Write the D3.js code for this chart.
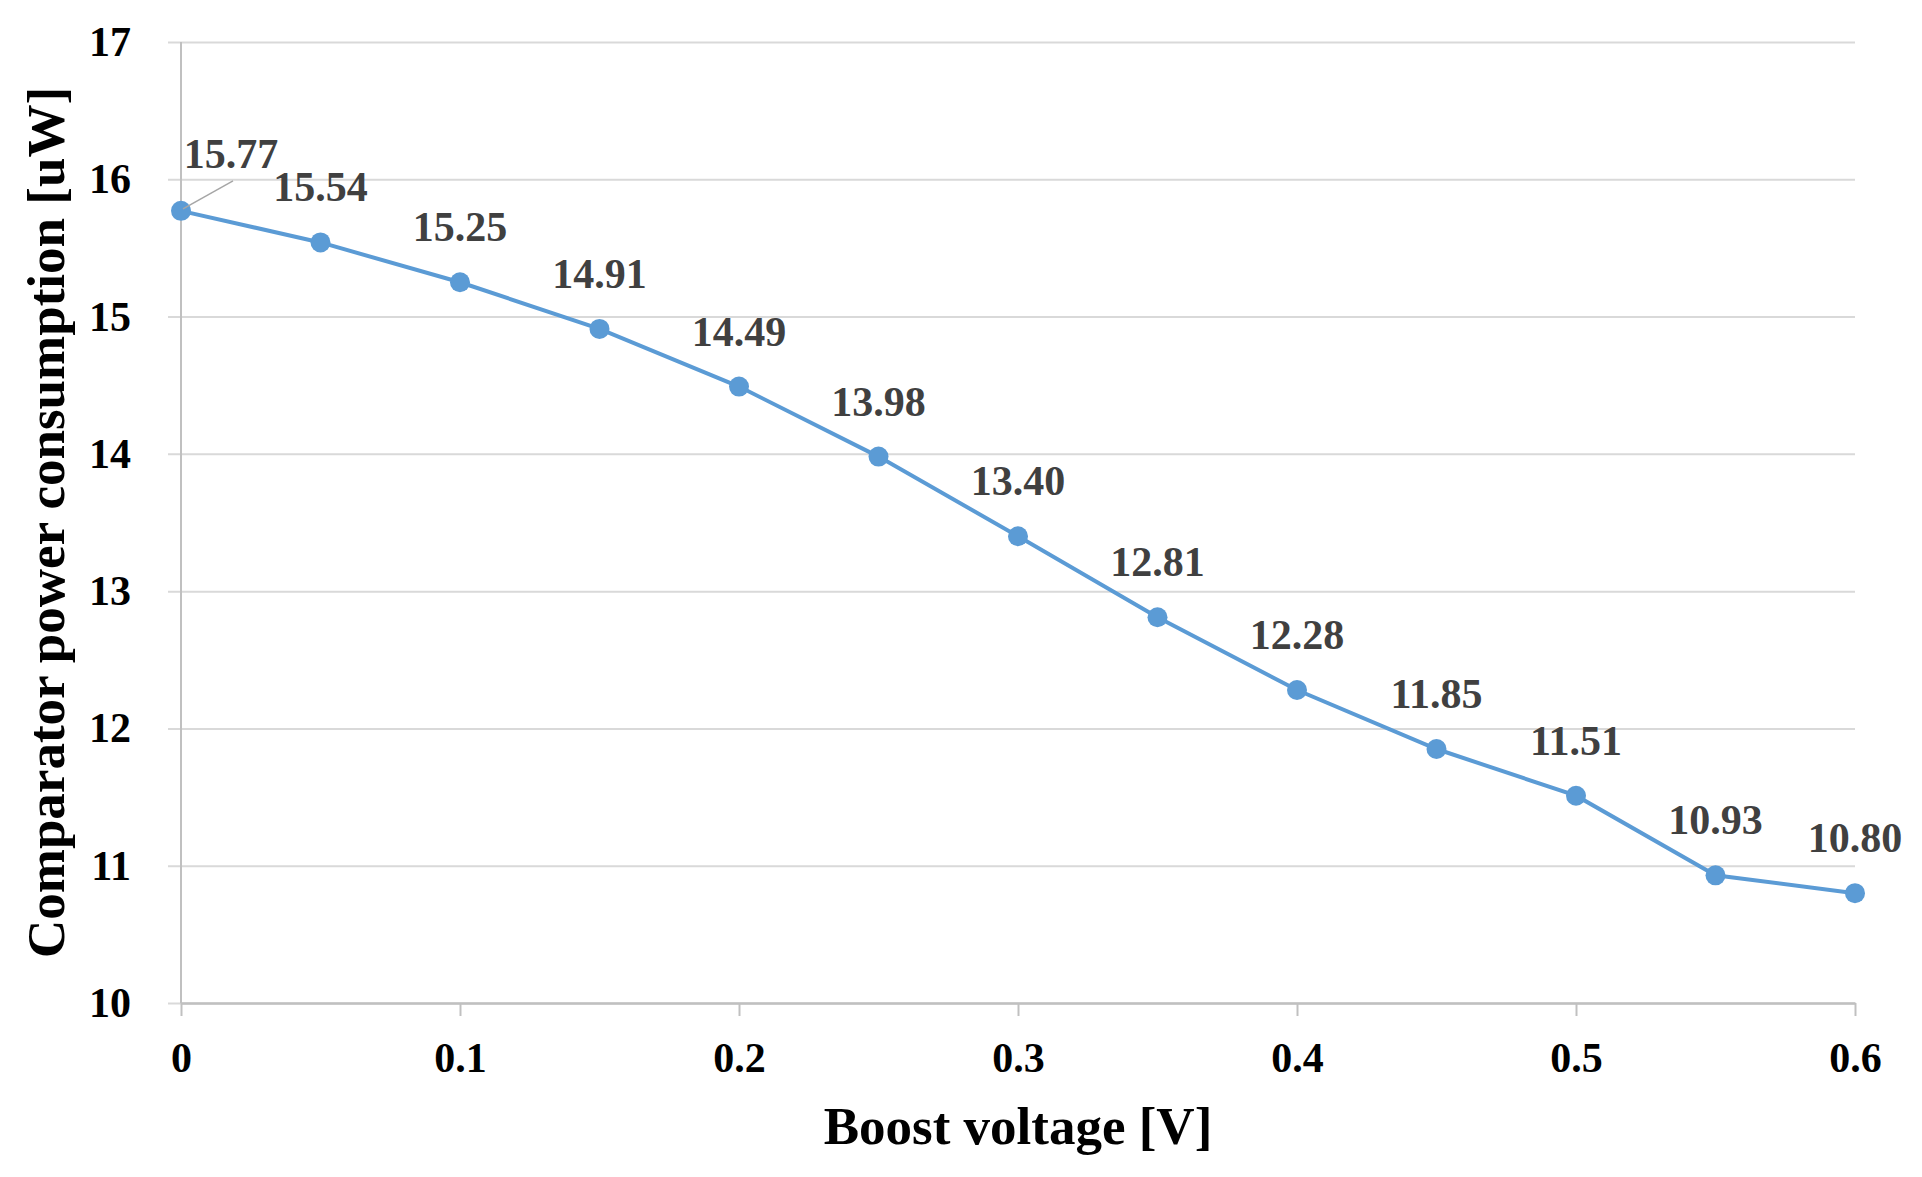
<!DOCTYPE html>
<html>
<head>
<meta charset="utf-8">
<script src="https://cdn.jsdelivr.net/npm/d3@7"></script>
<style>
  body { margin: 0; background: #fff; }
  svg { display: block; font-family: "Liberation Serif", "Times New Roman", serif; }
</style>
</head>
<body>
<div id="chart"></div>
<script>
// Data
const boostVoltage = [0, 0.05, 0.1, 0.15, 0.2, 0.25, 0.3, 0.35, 0.4, 0.45, 0.5, 0.55, 0.6];
const powerValues = [15.77, 15.54, 15.25, 14.91, 14.49, 13.98, 13.40, 12.81, 12.28, 11.85, 11.51, 10.93, 10.80];
const valueLabels = ["15.77", "15.54", "15.25", "14.91", "14.49", "13.98", "13.40", "12.81", "12.28", "11.85", "11.51", "10.93", "10.80"];
const xTickValues = [0, 0.1, 0.2, 0.3, 0.4, 0.5, 0.6];
const xTickLabels = ["0", "0.1", "0.2", "0.3", "0.4", "0.5", "0.6"];
const yTickValues = [10, 11, 12, 13, 14, 15, 16, 17];
const yTickLabels = ["10", "11", "12", "13", "14", "15", "16", "17"];

const width = 1922, height = 1177;
const margins = {top: 42, right: 67, bottom: 174, left: 181};
const fontFamily = '"Liberation Serif", "Times New Roman", serif';

const svg = d3.select("#chart")
  .append("svg")
  .attr("width", width)
  .attr("height", height);

// Scales
const x = d3.scaleLinear()
  .domain([0, 0.6])
  .range([margins.left, width - margins.right]);

const y = d3.scaleLinear()
  .domain([10, 17])
  .range([height - margins.bottom, margins.top]);

// Horizontal gridlines + y tick labels (ticks run from the right edge to just past the axis)
const gridLen = x(0.6) - margins.left + 13;
svg.append("g")
    .attr("transform", `translate(${x(0.6)},0)`)
  .call(d3.axisLeft(y).tickValues(yTickValues).tickFormat((d, i) => yTickLabels[i])
    .tickSize(gridLen).tickSizeOuter(0).tickPadding(37))
  .attr("font-family", fontFamily)
  .call(g => g.select(".domain").remove())
  .call(g => g.selectAll(".tick line").attr("stroke", "#d9d9d9").attr("stroke-width", 2))
  .call(g => g.selectAll(".tick text")
    .attr("fill", "#000")
    .style("font-size", "42px")
    .style("font-weight", "bold"));

// Left vertical axis line
svg.append("line")
  .attr("x1", x(0)).attr("x2", x(0))
  .attr("y1", y(10)).attr("y2", y(17))
  .attr("stroke", "#c0c0c0")
  .attr("stroke-width", 2);

// X axis
svg.append("g")
    .attr("transform", `translate(0,${y(10)})`)
  .call(d3.axisBottom(x).tickValues(xTickValues).tickFormat((d, i) => xTickLabels[i])
    .tickSize(13).tickSizeOuter(0).tickPadding(26))
  .attr("font-family", fontFamily)
  .call(g => g.select(".domain").attr("stroke", "#c0c0c0").attr("stroke-width", 2.5))
  .call(g => g.selectAll(".tick line").attr("stroke", "#c0c0c0").attr("stroke-width", 2))
  .call(g => g.selectAll(".tick text")
    .attr("fill", "#000")
    .style("font-size", "42px")
    .style("font-weight", "bold"));

const data = boostVoltage.map((v, i) => ({x: v, y: powerValues[i], label: valueLabels[i]}));

// Line
const line = d3.line()
  .x(d => x(d.x))
  .y(d => y(d.y));

svg.append("path")
  .datum(data)
  .attr("d", line)
  .attr("fill", "none")
  .attr("stroke", "#5b9bd5")
  .attr("stroke-width", 4);

// Markers
svg.append("g")
  .selectAll("circle")
  .data(data)
  .join("circle")
    .attr("cx", d => x(d.x))
    .attr("cy", d => y(d.y))
    .attr("r", 10)
    .attr("fill", "#5b9bd5");

// Leader line for the first label (it was nudged to the right)
svg.append("line")
  .attr("x1", x(data[0].x) + 2).attr("y1", y(data[0].y) - 2)
  .attr("x2", x(data[0].x) + 52).attr("y2", y(data[0].y) - 30)
  .attr("stroke", "#a6a6a6")
  .attr("stroke-width", 1.5);

// Data labels
svg.append("g")
  .selectAll("text")
  .data(data)
  .join("text")
    .attr("x", (d, i) => x(d.x) + (i === 0 ? 50 : 0))
    .attr("y", (d, i) => y(d.y) - (i === 0 ? 43 : 41))
    .attr("text-anchor", "middle")
    .attr("fill", "#404040")
    .style("font-size", "42px")
    .style("font-weight", "bold")
    .text(d => d.label);

// Axis titles
svg.append("text")
  .attr("x", (x(0) + x(0.6)) / 2)
  .attr("y", 1144)
  .attr("text-anchor", "middle")
  .style("font-size", "53px")
  .style("font-weight", "bold")
  .text("Boost voltage [V]");

svg.append("text")
  .attr("transform", `translate(64,${(y(10) + y(17)) / 2}) rotate(-90)`)
  .attr("text-anchor", "middle")
  .style("font-size", "53px")
  .style("font-weight", "bold")
  .text("Comparator power consumption [uW]");
</script>
</body>
</html>
